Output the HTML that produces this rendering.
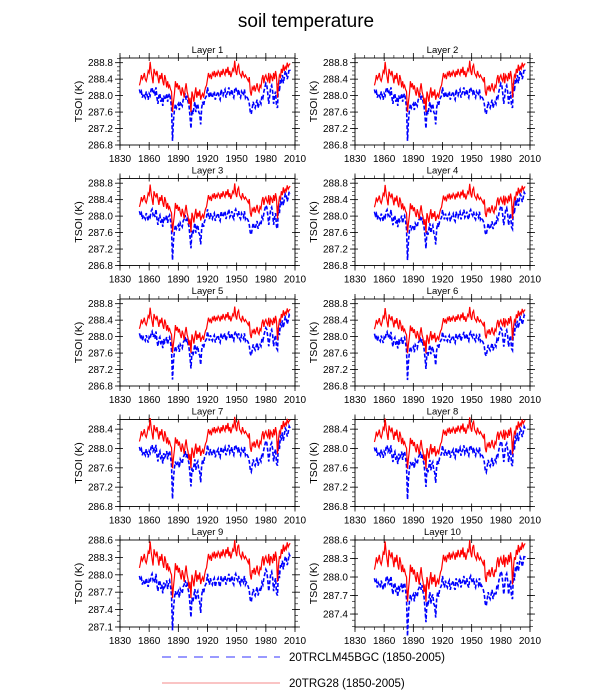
<!DOCTYPE html>
<html><head><meta charset="utf-8"><style>
html,body{margin:0;padding:0;background:#fff;}
svg{display:block;font-family:"Liberation Sans",Arial,sans-serif;}
</style></head><body>
<svg id="chart" width="612" height="690" viewBox="0 0 612 690">
<text x="306" y="27" text-anchor="middle" font-size="19">soil temperature</text>
<g id="panels"></g>
<g>
<line x1="162" y1="657" x2="280" y2="657" stroke="#3333ff" stroke-width="1" stroke-dasharray="9,7"/>
<text x="289" y="661" font-size="11.5">20TRCLM45BGC (1850-2005)</text>
<line x1="162" y1="683" x2="280" y2="683" stroke="#f7a0a0" stroke-width="1.3"/>
<text x="289" y="687" font-size="11.5">20TRG28 (1850-2005)</text>
</g>
</svg>
<script>
const startYear = 1850;
const redBase = [
288.25,288.35,288.50,288.40,288.45,288.55,288.40,288.35,288.45,288.60,
288.55,288.82,288.60,288.45,288.30,288.65,288.55,288.50,288.60,288.45,
288.30,288.50,288.40,288.55,288.35,288.25,288.50,288.40,288.20,288.35,
288.20,288.25,288.15,288.10,287.60,287.85,288.05,288.35,288.20,288.30,
288.15,288.25,288.10,288.00,288.20,288.10,287.95,288.15,288.30,288.10,
288.00,287.80,287.95,287.60,288.10,288.00,287.85,288.05,288.20,287.95,
288.10,288.00,288.15,287.90,288.00,288.05,287.95,288.10,288.20,288.25,
288.40,288.55,288.45,288.50,288.40,288.55,288.50,288.60,288.45,288.55,
288.50,288.60,288.55,288.45,288.60,288.50,288.65,288.55,288.50,288.65,
288.55,288.70,288.50,288.60,288.45,288.55,288.65,288.60,288.85,288.60,
288.50,288.70,288.75,288.55,288.50,288.45,288.60,288.50,288.45,288.50,
288.45,288.40,288.35,288.45,288.10,288.00,288.20,288.15,288.25,288.10,
288.20,288.30,288.15,288.10,288.25,288.20,288.40,288.50,288.30,288.45,
288.50,288.40,288.35,288.55,288.30,288.50,288.45,288.35,288.55,288.40,
288.60,288.45,287.95,288.30,288.50,288.45,288.65,288.55,288.75,288.60,
288.70,288.65,288.80,288.70,288.75,288.78];
const blueBase = [
288.15,288.05,288.10,287.95,288.05,288.00,287.95,288.10,288.00,287.90,
288.05,288.00,288.15,288.20,288.05,288.10,288.00,288.20,287.95,287.80,
288.00,288.05,287.85,287.95,287.75,288.00,287.90,287.95,288.05,287.85,
288.00,288.05,287.90,287.70,286.90,287.40,287.65,287.80,287.70,287.75,
287.80,287.65,287.85,287.80,287.75,287.90,287.95,288.05,287.90,288.00,
287.85,287.75,287.50,287.20,287.65,287.55,287.70,287.85,287.60,287.75,
287.80,287.60,287.55,287.30,287.70,287.85,287.75,287.90,287.95,288.00,
288.20,288.05,287.95,288.10,288.00,287.95,288.05,288.10,287.90,288.00,
288.05,288.10,287.95,287.90,288.15,288.05,288.00,288.10,288.15,287.95,
288.05,288.10,288.20,288.00,288.05,288.15,288.00,287.95,288.15,288.20,
288.10,288.05,288.15,288.00,287.95,288.10,288.05,288.00,288.15,287.95,
288.00,287.95,287.90,287.80,287.60,287.55,287.70,287.85,287.75,287.70,
287.80,287.90,287.70,287.80,287.85,287.80,288.00,287.95,288.10,288.20,
288.30,288.25,288.05,287.80,288.00,288.20,288.25,288.10,287.80,288.00,
288.10,287.75,287.70,288.30,288.10,288.40,288.35,288.50,288.30,288.45,
288.60,288.55,288.40,288.50,288.65,288.60];
const layerNames = ["Layer 1","Layer 2","Layer 3","Layer 4","Layer 5","Layer 6","Layer 7","Layer 8","Layer 9","Layer 10"];
const redCenter = [288.35,288.35,288.32,288.31,288.28,288.27,288.23,288.22,288.20,288.20];
const redScale = [1,1,0.95,0.95,0.9,0.9,0.85,0.85,0.8,0.8];
const blueCenter = [287.95,287.95,287.93,287.92,287.90,287.89,287.86,287.85,287.83,287.83];
const blueScale = [1,1,0.95,0.94,0.9,0.9,0.86,0.86,0.75,0.75];
const yMins = [286.8,286.8,286.8,286.8,286.8,286.8,286.8,286.8,287.1,287.19];
const yMaxs = [288.914,288.914,288.914,288.914,288.914,288.914,288.6,288.6,288.6,288.6];
const yTickLabels = [
["286.8","287.2","287.6","288.0","288.4","288.8"],["286.8","287.2","287.6","288.0","288.4","288.8"],
["286.8","287.2","287.6","288.0","288.4","288.8"],["286.8","287.2","287.6","288.0","288.4","288.8"],
["286.8","287.2","287.6","288.0","288.4","288.8"],["286.8","287.2","287.6","288.0","288.4","288.8"],
["286.8","287.2","287.6","288.0","288.4"],["286.8","287.2","287.6","288.0","288.4"],
["287.1","287.4","287.7","288.0","288.3","288.6"],["287.4","287.7","288.0","288.3","288.6"]];
const xTickLabels = ["1830","1860","1890","1920","1950","1980","2010"];
const xMin = 1830, xMax = 2010;

const NS = "http://www.w3.org/2000/svg";
const root = document.getElementById("panels");
function mk(tag, attrs, parent){const e=document.createElementNS(NS,tag);for(const k in attrs)e.setAttribute(k,attrs[k]);parent.appendChild(e);return e;}

layerNames.forEach((name,i)=>{
  const col=i%2,row=Math.floor(i/2);
  const L=col?355:120,R=col?530:295,T=58+row*120.5,B=145+row*120.5;
  const xs=v=>L+(v-xMin)/(xMax-xMin)*(R-L);
  const ys=v=>B-(v-yMins[i])/(yMaxs[i]-yMins[i])*(B-T);
  const g=mk("g",{},root);
  
  
  const tt=mk("text",{x:(L+R)/2,y:T-5,"text-anchor":"middle","font-size":"9.5"},g);tt.textContent=name;
  
  
  const yt=mk("text",{x:0,y:0,"text-anchor":"middle","font-size":"10.5",transform:`translate(${L-38},${(T+B)/2}) rotate(-90)`},g);yt.textContent="TSOI  (K)";
  
  
  // minor y ticks
  for(let v=Math.ceil(yMins[i]*10-1e-6)/10; v<=yMaxs[i]+1e-6; v=Math.round((v+0.1)*10)/10){
    const y=ys(v);
    mk("line",{x1:L-3,x2:L,y1:y,y2:y,stroke:"#000","stroke-width":0.6},g);
    mk("line",{x1:R,x2:R+3,y1:y,y2:y,stroke:"#000","stroke-width":0.6},g);
  }
  yTickLabels[i].forEach(s=>{
    const v=parseFloat(s),y=ys(v);
    mk("line",{x1:L-5,x2:L+3,y1:y,y2:y,stroke:"#000","stroke-width":0.8},g);
    mk("line",{x1:R-3,x2:R+5,y1:y,y2:y,stroke:"#000","stroke-width":0.8},g);
    const t=mk("text",{x:L-7,y:y+3.5,"text-anchor":"end","font-size":"10"},g);t.textContent=s;
    
    
  });
  for(let yr=xMin;yr<=xMax;yr+=10){
    const x=xs(yr);
    mk("line",{x1:x,x2:x,y1:B,y2:B+3,stroke:"#000","stroke-width":0.6},g);
    mk("line",{x1:x,x2:x,y1:T-3,y2:T,stroke:"#000","stroke-width":0.6},g);
  }
  xTickLabels.forEach(s=>{
    const x=xs(parseFloat(s));
    mk("line",{x1:x,x2:x,y1:B-3,y2:B+5,stroke:"#000","stroke-width":0.8},g);
    mk("line",{x1:x,x2:x,y1:T-5,y2:T+3,stroke:"#000","stroke-width":0.8},g);
    const t=mk("text",{x:x,y:B+17,"text-anchor":"middle","font-size":"10"},g);t.textContent=s;
    
    
  });
  const frame=mk("rect",{x:L,y:T,width:R-L,height:B-T,fill:"none",stroke:"#000","stroke-width":0.9},g);
  
  
  const rp=redBase.map((v,k)=>xs(startYear+k).toFixed(2)+","+ys(redCenter[i]+(v-288.35)*redScale[i]).toFixed(2)).join(" ");
  const bp=blueBase.map((v,k)=>xs(startYear+k).toFixed(2)+","+ys(blueCenter[i]+(v-287.95)*blueScale[i]).toFixed(2)).join(" ");
  const bl=mk("polyline",{points:bp,fill:"none",stroke:"#0000ff","stroke-width":1.6,"stroke-dasharray":"4,2"},g);
  
  
  const rl=mk("polyline",{points:rp,fill:"none",stroke:"#ff0000","stroke-width":1.2},g);
  
  
});
</script>
</body></html>
